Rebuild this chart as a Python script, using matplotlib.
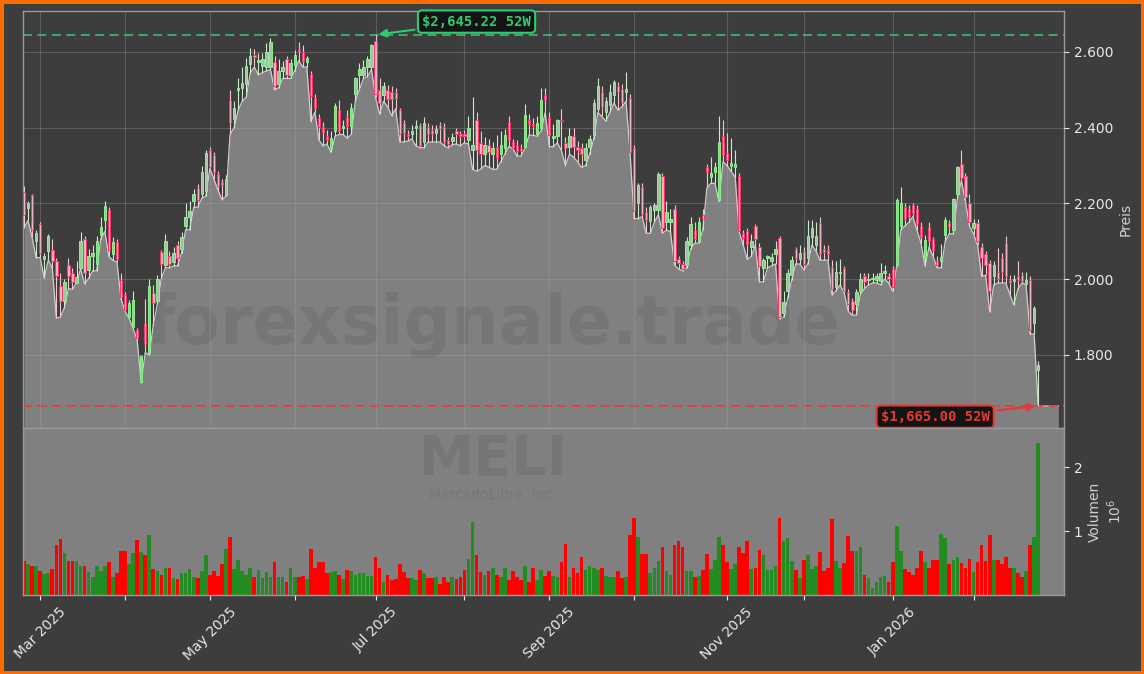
import numpy as np
import pandas as pd
import matplotlib
matplotlib.use("Agg")
import matplotlib.pyplot as plt
from matplotlib.ticker import FuncFormatter, FixedLocator

# trading days Feb 25 2025 .. Feb 25 2026 (NYSE holidays removed)
holidays = ["2025-04-18", "2025-05-26", "2025-06-19", "2025-07-04", "2025-09-01",
            "2025-11-27", "2025-12-25", "2026-01-01", "2026-01-19", "2026-02-16"]
dates = pd.bdate_range("2025-02-25", "2026-02-25")
dates = dates[~dates.isin(pd.to_datetime(holidays))]

open_ = [2231,2187,2221,2101,2145,2052,2073,2078,2047,1983,1943,2037,2017,1990,2030,2105,2025,2062,2040,2116,2155,2183,2067,2098,1998,1958,1901,1874,1865,1729,1884,1806,1963,1943,2072,2037,
         2060,2045,2091,2080,2140,2165,2205,2240,2226,2232,2340,2327,2278,2257,2222,2472,2423,2500,2505,2515,2569,2591,2573,2564,2560,2560,2574,2515,2550,2580,2540,2565,2607,2601,2574,2542,2478,2426,
         2401,2377,2347,2390,2446,2400,2429,2404,2488,2540,2540,2559,2560,2630,2500,2485,2500,2495,2495,2446,2411,2384,2384,2400,2406,2362,2401,2394,2387,2406,2401,2367,2366,2392,2384,2384,2367,
         2340,2420,2360,2330,2355,2330,2350,2330,2345,2416,2362,2354,2347,2350,2421,2410,2382,2400,2485,2426,2373,2377,2420,2360,2350,2377,2350,2345,2315,2350,2380,2450,2495,2440,2460,2485,2510,
         2502,2493,2478,2347,2201,2244,2178,2153,2183,2183,2271,2150,2150,2185,2052,2040,2037,2090,2130,2100,2170,2297,2270,2283,2210,2377,2332,2298,2295,2273,2121,2128,2084,2140,2086,2030,2055,
         2047,2067,2108,1910,1968,2010,2079,2052,2075,2057,2110,2090,2147,2080,2077,2032,1980,2015,2030,1966,1943,1934,1968,2009,1997,2000,1998,1996,2015,2007,2027,2037,2140,2190,2185,2195,2185,
         2140,2057,2138,2106,2049,2047,2116,2148,2130,2224,2305,2271,2200,2136,2148,2086,2067,2042,2007,2020,2057,2096,1997,1995,2007,2010,1986,1998,1884,1761]
high = [2246,2207,2225,2130,2150,2070,2120,2106,2055,2017,2000,2057,2030,2047,2125,2115,2080,2091,2115,2165,2205,2190,2110,2105,2017,1965,1945,1968,1872,1800,1948,2000,1985,2010,2077,2120,
        2075,2085,2100,2125,2200,2205,2239,2250,2298,2342,2350,2335,2285,2265,2275,2500,2470,2530,2560,2584,2610,2608,2598,2598,2623,2636,2590,2580,2575,2590,2580,2605,2626,2618,2590,2550,2490,2435,
        2415,2395,2392,2466,2472,2420,2446,2466,2535,2570,2579,2590,2620,2645.22,2530,2520,2512,2510,2505,2452,2421,2395,2406,2420,2412,2429,2411,2406,2406,2415,2411,2375,2385,2400,2392,2395,2430,
        2480,2440,2390,2375,2370,2362,2380,2390,2397,2431,2370,2367,2357,2462,2436,2425,2430,2505,2505,2440,2410,2423,2450,2375,2400,2400,2365,2360,2360,2380,2475,2531,2510,2480,2515,2527,2520,
        2515,2547,2490,2355,2254,2254,2190,2195,2200,2283,2280,2207,2185,2195,2060,2048,2110,2165,2150,2165,2185,2303,2323,2308,2431,2421,2387,2372,2340,2280,2130,2135,2120,2145,2095,2055,2065,
        2070,2101,2115,1968,2027,2060,2085,2091,2085,2155,2155,2150,2165,2090,2091,2050,2047,2052,2035,1975,1950,1973,2017,2017,2015,2015,2017,2042,2037,2015,2035,2215,2242,2200,2195,2200,2195,
        2150,2116,2150,2110,2060,2094,2165,2155,2214,2298,2342,2280,2226,2160,2160,2095,2075,2050,2047,2082,2070,2114,2010,2010,2047,2020,2020,2007,1930,1783]
low = [2136,2155,2110,2057,2057,2003,2050,2030,1897,1900,1925,1975,1973,1990,2027,1988,2002,2022,2022,2106,2126,2060,2050,2045,1948,1915,1897,1870,1840,1727,1806,1800,1880,1935,2003,2030,
       2030,2035,2035,2070,2130,2130,2190,2190,2214,2219,2293,2264,2235,2210,2219,2382,2400,2446,2470,2480,2545,2560,2540,2545,2550,2553,2500,2505,2530,2530,2530,2550,2577,2560,2560,2416,2441,2367,
       2352,2357,2335,2377,2382,2382,2372,2382,2470,2500,2530,2535,2554,2480,2436,2470,2455,2432,2450,2362,2362,2365,2370,2352,2347,2347,2362,2362,2362,2362,2352,2347,2355,2357,2352,2360,2357,
       2290,2285,2290,2300,2296,2290,2290,2310,2330,2350,2345,2325,2325,2345,2380,2380,2377,2392,2440,2350,2350,2360,2340,2300,2330,2322,2310,2295,2300,2330,2370,2440,2430,2417,2440,2465,2446,
       2455,2470,2332,2160,2160,2165,2121,2121,2150,2170,2121,2130,2125,2037,2027,2022,2030,2080,2095,2095,2130,2240,2253,2253,2205,2310,2300,2285,2270,2125,2090,2052,2060,2090,1993,1993,2030,
       2035,2040,1895,1900,1950,1998,2040,2040,2025,2040,2090,2075,2050,2050,2050,1958,1970,1985,1963,1915,1905,1905,1960,1975,1985,1990,1990,1985,2000,1990,1968,2035,2130,2140,2150,2165,2130,
       2095,2035,2085,2060,2030,2030,2100,2120,2120,2213,2260,2205,2140,2120,2090,2007,2010,1914,1985,1990,1990,1990,1960,1932,1975,1990,1985,1855,1855,1665]
close = [2170,2200,2131,2123,2070,2060,2113,2047,2007,1943,1993,2007,1993,2005,2100,2017,2060,2070,2100,2138,2192,2076,2098,2052,1953,1919,1936,1946,1844,1796,1828,1981,1937,2000,2040,2100,
         2040,2070,2057,2110,2165,2180,2226,2210,2283,2332,2295,2283,2247,2249,2264,2411,2451,2505,2517,2564,2589,2586,2578,2581,2600,2625,2510,2550,2560,2540,2570,2593,2602,2577,2584,2483,2451,2401,
         2387,2367,2372,2456,2390,2405,2404,2453,2530,2555,2561,2581,2618,2490,2465,2510,2475,2475,2475,2382,2387,2377,2392,2405,2352,2411,2382,2384,2396,2397,2362,2357,2376,2384,2377,2377,2400,
         2355,2340,2330,2355,2335,2345,2320,2355,2380,2367,2347,2338,2338,2433,2409,2405,2413,2472,2472,2380,2378,2420,2418,2347,2377,2350,2340,2330,2345,2370,2465,2510,2455,2470,2495,2520,2495,
         2468,2502,2337,2180,2249,2173,2155,2190,2197,2278,2134,2177,2160,2049,2042,2028,2100,2145,2107,2150,2160,2283,2280,2297,2362,2328,2315,2306,2303,2128,2108,2093,2101,2106,2035,2050,2060,
         2059,2079,1901,1940,2017,2050,2057,2070,2040,2115,2135,2115,2067,2072,2067,1973,2020,2020,1968,1934,1919,1966,2001,1993,2000,2003,2007,2015,2022,2000,1980,2210,2200,2160,2165,2175,2145,
         2110,2103,2101,2076,2037,2059,2155,2138,2212,2295,2268,2217,2150,2148,2101,2057,2037,1970,2037,2000,2018,2008,1990,2000,1997,1995,1998,1865,1924,1772]
# volume in millions of shares
volume_m = [0.54,0.49,0.45,0.46,0.37,0.33,0.34,0.40,0.79,0.88,0.66,0.54,0.53,0.53,0.46,0.45,0.36,0.28,0.45,0.37,0.45,0.51,0.28,0.34,0.69,0.69,0.48,0.66,0.86,0.68,0.63,0.94,0.40,0.37,0.32,0.43,
            0.43,0.26,0.25,0.34,0.34,0.40,0.29,0.26,0.37,0.62,0.32,0.37,0.30,0.49,0.72,0.91,0.40,0.55,0.37,0.32,0.42,0.29,0.39,0.26,0.36,0.29,0.51,0.28,0.28,0.21,0.42,0.29,0.28,0.30,0.25,0.72,0.42,0.51,
            0.51,0.34,0.36,0.37,0.32,0.25,0.39,0.37,0.32,0.34,0.34,0.30,0.30,0.59,0.43,0.21,0.32,0.23,0.25,0.48,0.36,0.26,0.26,0.23,0.39,0.34,0.26,0.26,0.28,0.17,0.29,0.20,0.28,0.25,0.28,0.39,0.57,
            1.14,0.63,0.36,0.32,0.37,0.42,0.32,0.29,0.43,0.23,0.37,0.29,0.23,0.45,0.21,0.42,0.23,0.39,0.30,0.37,0.30,0.28,0.51,0.80,0.29,0.43,0.34,0.59,0.39,0.45,0.43,0.39,0.43,0.30,0.28,0.29,0.37,
            0.26,0.29,0.94,1.20,0.91,0.65,0.65,0.34,0.42,0.54,0.75,0.37,0.32,0.78,0.84,0.76,0.37,0.37,0.29,0.30,0.39,0.65,0.40,0.55,0.91,0.78,0.51,0.40,0.48,0.76,0.66,0.84,0.40,0.42,0.71,0.62,0.39,
            0.39,0.45,1.20,0.84,0.89,0.54,0.39,0.26,0.55,0.63,0.40,0.46,0.68,0.37,0.43,1.19,0.54,0.42,0.50,0.92,0.69,0.69,0.76,0.32,0.26,0.11,0.20,0.29,0.30,0.21,0.51,1.08,0.69,0.40,0.36,0.32,0.42,
            0.69,0.51,0.43,0.55,0.55,0.95,0.89,0.48,0.55,0.59,0.50,0.43,0.57,0.36,0.51,0.78,0.53,0.94,0.55,0.55,0.48,0.60,0.43,0.43,0.34,0.29,0.37,0.78,0.91,2.38]

high_52w = 2645.22
low_52w = 1665.00
last_price = 1665.00
ticker = "MELI"
company = "MercadoLibre, Inc."

df = pd.DataFrame({"Open": open_, "High": high, "Low": low, "Close": close,
                   "Volume": np.array(volume_m) * 1e6}, index=dates)
df["High"] = df[["Open", "High", "Close"]].max(axis=1)
df["Low"] = df[["Open", "Low", "Close"]].min(axis=1)
x = np.arange(len(df))
up = (df["Close"] >= df["Open"]).values

BG = "#3d3d3d"
fig = plt.figure(figsize=(11.44, 6.74), dpi=100, facecolor=BG)
fig.patch.set_edgecolor("#ff6a00")
fig.patch.set_linewidth(5)

ax = fig.add_axes([0.0201, 0.365, 0.910, 0.6187])
axv = fig.add_axes([0.0201, 0.1172, 0.910, 0.2478], sharex=ax)
ax.set_facecolor(BG)
axv.set_facecolor("#808080")

# area under lows
x_fill = np.append(x, len(df) + 4)
low_fill = np.append(df["Low"].values, last_price)
ymin, ymax = 1607, 2708
ax.fill_between(x_fill, low_fill, ymin, color="#808080", zorder=1, lw=0)
ax.plot(x_fill, low_fill, color="#cfcfcf", lw=0.9, zorder=2)

# candles
wick_col = np.where(up, "#cdeccd", "#f5c6d0")
ax.vlines(x, df["Low"], df["High"], colors=wick_col, lw=0.8, zorder=3)
body_lo = np.minimum(df["Open"], df["Close"])
body_h = np.maximum(np.abs(df["Close"] - df["Open"]), 2.0)
ax.bar(x[up], body_h[up], bottom=body_lo[up], width=0.6, color="#a6c2a6",
       edgecolor="#90ee90", lw=0.7, zorder=4)
ax.bar(x[~up], body_h[~up], bottom=body_lo[~up], width=0.6, color="#f2b3c0",
       edgecolor="#ff3366", lw=0.7, zorder=4)

# 52 week lines and labels
ax.axhline(high_52w, color="#3cb371", ls="--", lw=1.3, dashes=(5, 3), zorder=2.5)
ax.axhline(low_52w, color="#e0403c", ls="--", lw=1.3, dashes=(5, 3), zorder=2.5)
i_hi = int(np.argmax(df["High"].values))
i_lo = int(np.argmin(df["Low"].values))
ax.annotate(r"\$" + f"{high_52w:,.2f} 52W", xy=(i_hi, high_52w), xytext=(112, 2680),
            ha="center", va="center", color="#2ecc71", fontsize=10, fontweight="bold",
            family="DejaVu Sans Mono", zorder=6,
            bbox=dict(boxstyle="round,pad=0.3", fc="#141414", ec="#2ecc71", lw=1.5),
            arrowprops=dict(arrowstyle="-|>", color="#2ecc71", lw=1.5, mutation_scale=12))
ax.annotate(r"\$" + f"{low_52w:,.2f} 52W", xy=(i_lo, low_52w), xytext=(225.5, 1637),
            ha="center", va="center", color="#e53935", fontsize=10, fontweight="bold",
            family="DejaVu Sans Mono", zorder=6,
            bbox=dict(boxstyle="round,pad=0.3", fc="#141414", ec="#e53935", lw=1.5),
            arrowprops=dict(arrowstyle="-|>", color="#e53935", lw=1.5, mutation_scale=12))

# watermarks
ax.text(0.452, 0.247, "forexsignale.trade", transform=ax.transAxes, ha="center", va="center",
        fontsize=48, fontweight="bold", color="black", alpha=0.07, zorder=2)
axv.text(0.4515, 0.81, ticker, transform=axv.transAxes, ha="center", va="center",
         fontsize=40, fontweight="bold", color="black", alpha=0.07, zorder=0.5)
axv.text(0.4515, 0.60, company, transform=axv.transAxes, ha="center", va="center",
         fontsize=10, color="black", alpha=0.07, zorder=0.5)

# volume bars
axv.bar(x, df["Volume"], width=0.9, color=np.where(up, "#228b22", "#ff0000"), lw=0, zorder=2)

# month ticks at first trading day of each month
first_idx = pd.Series(x, index=dates).groupby([dates.year, dates.month]).min().values[1:]
labels = [d.strftime("%b %Y") if k % 2 == 0 else "" for k, d in enumerate(dates[first_idx])]
ax.set_xlim(-0.25, 257.4)
ax.set_ylim(ymin, ymax)
axv.set_ylim(0, df["Volume"].max() * 1.1)
ax.xaxis.set_major_locator(FixedLocator(first_idx))
axv.set_xticks(first_idx)
axv.set_xticklabels(labels, rotation=45, fontsize=10, color="#e8e8e8")
ax.tick_params(axis="x", labelbottom=False, length=0)

ax.yaxis.tick_right()
ax.yaxis.set_label_position("right")
ax.set_yticks([1800, 2000, 2200, 2400, 2600])
ax.yaxis.set_major_formatter(FuncFormatter(lambda v, _: f"{v:,.0f}".replace(",", ".")))
ax.set_ylabel("Preis", color="#d0d0d0", fontsize=10)
axv.yaxis.tick_right()
axv.yaxis.set_label_position("right")
axv.set_yticks([1e6, 2e6])
axv.yaxis.set_major_formatter(FuncFormatter(lambda v, _: f"{v/1e6:.0f}"))
axv.set_ylabel("Volumen\n$10^{6}$", color="#d0d0d0", fontsize=10)

for a in (ax, axv):
    a.tick_params(colors="#e8e8e8", labelsize=10)
    for s in a.spines.values():
        s.set_color("#9a9a9a")
        s.set_linewidth(1.0)
ax.grid(True, color="#a8a8a8", alpha=0.3, lw=0.8, zorder=1.5)
ax.set_axisbelow(False)

fig.savefig("out.png", dpi=100, facecolor=fig.get_facecolor(), edgecolor=fig.get_edgecolor())
